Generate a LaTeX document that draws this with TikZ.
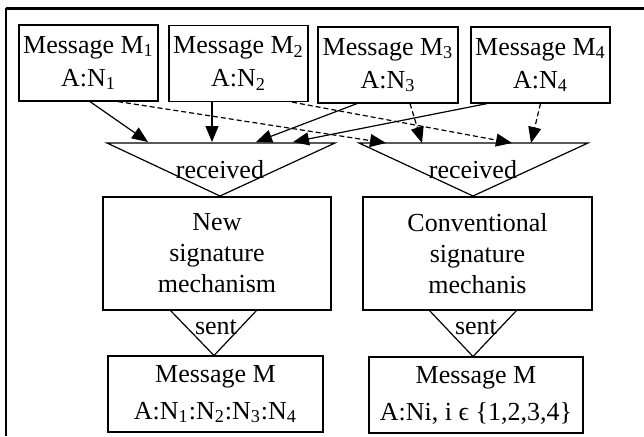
\documentclass[tikz,border=0pt]{standalone}
\usepackage{fontspec}
\setmainfont{Liberation Serif}
\usetikzlibrary{arrows.meta}
\begin{document}
\begin{tikzpicture}[x=0.5pt,y=-0.5pt]
\tikzstyle{box}=[draw=black,line width=0.6pt,inner sep=0pt,align=center]
\tikzstyle{toptxt}=[font=\fontsize{13}{16.5}\selectfont]
\tikzstyle{midtxt}=[font=\fontsize{13}{15.5}\selectfont]
\tikzstyle{lowtxt}=[font=\fontsize{13}{18.5}\selectfont]
\tikzstyle{tritxt}=[font=\fontsize{13}{15}\selectfont,inner sep=0pt]
\tikzstyle{solidarr}=[line width=0.6pt,-{Triangle[length=8pt,width=6.5pt]}]
\tikzstyle{dasharr}=[solidarr,dash pattern=on 2.5pt off 1.5pt]
\useasboundingbox (0,0) rectangle (644,436);
\draw [line width=1.5pt] (5.5,8) -- (644,8);
\draw [line width=1pt] (6,8) -- (6,436);
\node [box,toptxt,minimum width=69.5pt,minimum height=38pt] (m1) at (88.5,63) {Message M\textsubscript{1}\\A:N\textsubscript{1}};
\node [box,toptxt,minimum width=69.5pt,minimum height=38pt] (m2) at (238.5,63.5) {Message M\textsubscript{2}\\A:N\textsubscript{2}};
\node [box,toptxt,minimum width=70pt,minimum height=38pt] (m3) at (388,65) {Message M\textsubscript{3}\\A:N\textsubscript{3}};
\node [box,toptxt,minimum width=69.5pt,minimum height=38pt] (m4) at (540.5,65) {Message M\textsubscript{4}\\A:N\textsubscript{4}};
\draw [line width=0.6pt] (107,143) -- (335,143) -- (220,196) -- cycle;
\draw [line width=0.6pt] (359,143) -- (588,143) -- (473,196) -- cycle;
\node [tritxt] (rec1) at (220,170) {received};
\node [tritxt] (rec2) at (473,170) {received};
\coordinate (a1) at (148,142);
\coordinate (a2) at (212,142);
\coordinate (a3) at (256,142);
\coordinate (a4) at (293,142);
\coordinate (b1) at (386,143);
\coordinate (b3) at (422,143);
\coordinate (b2) at (512,143);
\coordinate (b4) at (531,143);
\draw [solidarr] ([xshift=0.75pt]m1.south) -- (a1);
\draw [solidarr] ([xshift=-13.25pt]m2.south) -- (a2);
\draw [solidarr] ([xshift=-15.5pt]m3.south) -- (a3);
\draw [solidarr] ([xshift=-26.75pt]m4.south) -- (a4);
\draw [dasharr] ([xshift=14.75pt]m1.south) -- (b1);
\draw [dasharr] ([xshift=26.75pt]m2.south) -- (b2);
\draw [dasharr] ([xshift=11pt]m3.south) -- (b3);
\draw [dasharr] (m4.south) -- (b4);
\node [box,midtxt,minimum width=114pt,minimum height=56.5pt] (mech1) at (217,253.5) {New\\signature\\mechanism};
\node [box,midtxt,minimum width=114.5pt,minimum height=56.5pt] (mech2) at (477.5,253.5) {Conventional\\signature\\mechanis};
\draw [line width=0.6pt] (170,310) -- (257,310) -- (214,355.5) -- cycle;
\draw [line width=0.6pt] (429,310) -- (517,310) -- (473,356.5) -- cycle;
\node [tritxt] (sent1) at (216,327) {sent};
\node [tritxt] (sent2) at (476,327) {sent};
\node [box,lowtxt,minimum width=107.5pt,minimum height=38pt] (out1) at (215.5,394) {Message M\\A:N\textsubscript{1}:N\textsubscript{2}:N\textsubscript{3}:N\textsubscript{4}};
\node [box,lowtxt,minimum width=107pt,minimum height=38pt] (out2) at (476,395) {Message M\\A:Ni, i ϵ \{1,2,3,4\}};
\end{tikzpicture}
\end{document}
